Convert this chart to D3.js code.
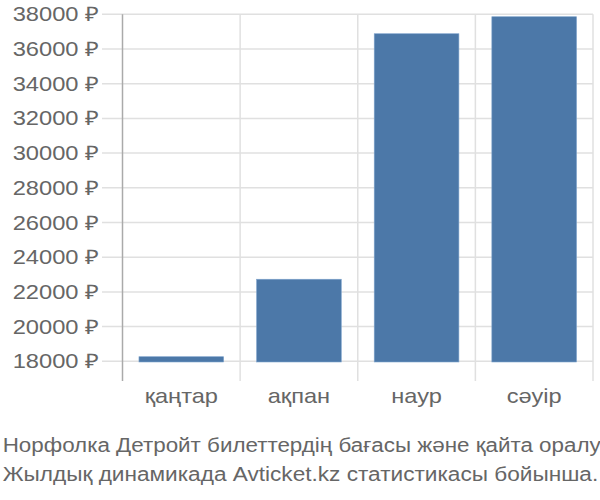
<!DOCTYPE html>
<html><head><meta charset="utf-8">
<script src="https://cdn.jsdelivr.net/npm/d3@7"></script>
<style>body{margin:0;background:#fff}svg{display:block}text{font-family:"Liberation Sans",Arial,sans-serif;fill:#666}</style>
</head><body><svg id="c" width="600" height="500"></svg>
<script>
const categories = ["қаңтар", "ақпан", "наур", "сәуір"];
const values = [18265, 22730, 36880, 37860];
const yTicks = [18000, 20000, 22000, 24000, 26000, 28000, 30000, 32000, 34000, 36000, 38000];
const titleLines = ["Норфолка Детройт билеттердің бағасы және қайта оралу", "Жылдық динамикада Avticket.kz статистикасы бойынша."];

const svg = d3.select("#c");
const x = d3.scaleBand().domain(categories).range([122.5, 593]).paddingInner(0.28).paddingOuter(0.14);
const y = d3.scaleLinear().domain([18000, 38000]).range([361.3, 14.3]);

// horizontal grid
svg.append("g").selectAll("line").data(yTicks).join("line")
  .attr("x1", 102).attr("x2", 593).attr("y1", d => y(d)).attr("y2", d => y(d))
  .attr("stroke", "#e0e0e0").attr("stroke-width", 1.5);
// vertical grid at band boundaries
const bounds = categories.map(c => x(c) - x.step()*x.paddingInner()/2).concat([593]);
svg.append("g").selectAll("line").data(bounds.slice(1)).join("line")
  .attr("x1", d => d).attr("x2", d => d).attr("y1", 14.3).attr("y2", 381)
  .attr("stroke", "#e0e0e0").attr("stroke-width", 1.5);
svg.append("line").attr("x1", 122.5).attr("x2", 122.5).attr("y1", 14.3).attr("y2", 381)
  .attr("stroke", "#aaa").attr("stroke-width", 1.5);

// bars
svg.append("g").selectAll("rect").data(values).join("rect")
  .attr("x", (d, i) => x(categories[i]))
  .attr("width", x.bandwidth())
  .attr("y", d => y(d))
  .attr("height", d => y(18000) - y(d) + 0.7)
  .attr("fill", "#4c78a8").attr("stroke", "#7ea3cc").attr("stroke-width", 0.6);

// y labels
svg.append("g").selectAll("text").data(yTicks).join("text")
  .attr("x", 12.7).attr("y", d => y(d) + 7)
  .style("font-size", "20px")
  .attr("textLength", 86.6).attr("lengthAdjust", "spacingAndGlyphs")
  .text(d => d + " ₽");

// x labels
svg.append("g").selectAll("text").data(categories).join("text")
  .attr("x", d => x(d) + x.bandwidth()/2).attr("y", 403)
  .attr("text-anchor", "middle").style("font-size", "20px")
  .attr("transform", d => { const cx = x(d) + x.bandwidth()/2; return `translate(${cx},0) scale(1.18,1) translate(${-cx},0)`; })
  .text(d => d);

// title
const tLens = [598, 595.5];
svg.append("g").selectAll("text").data(titleLines).join("text")
  .attr("x", 2.7).attr("y", (d, i) => 452.3 + i*28.5)
  .style("font-size", "20px")
  .attr("textLength", (d, i) => tLens[i]).attr("lengthAdjust", "spacingAndGlyphs")
  .text(d => d);
</script></body></html>
